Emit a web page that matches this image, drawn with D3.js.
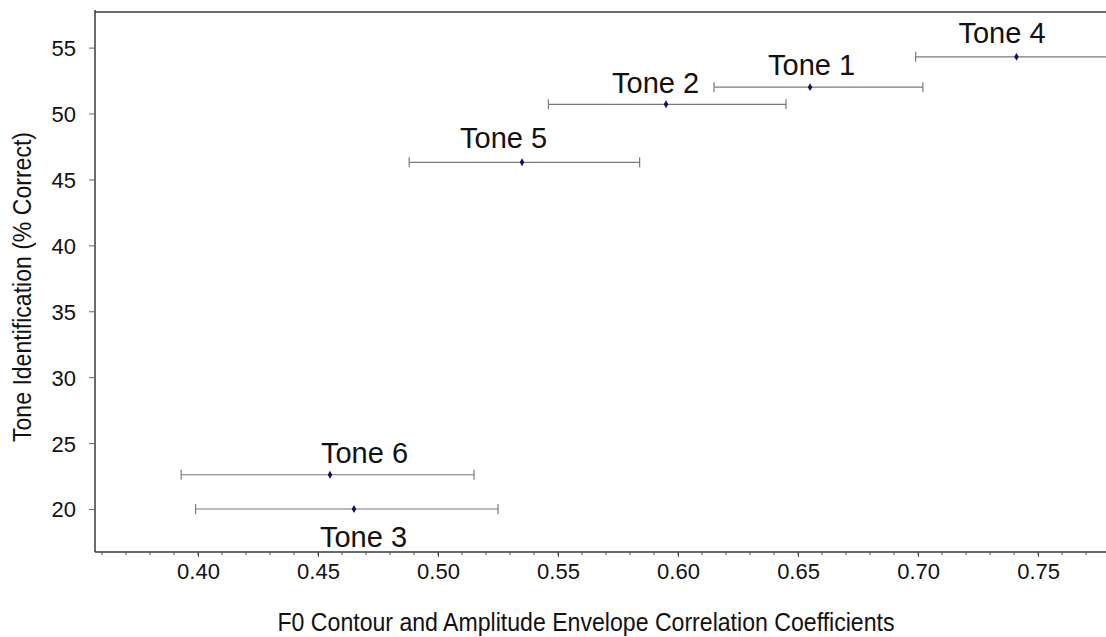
<!DOCTYPE html>
<html>
<head>
<meta charset="utf-8">
<script src="https://cdn.jsdelivr.net/npm/d3@7"></script>
<style>
  html, body { margin: 0; padding: 0; background: #fff; }
  svg { display: block; font-family: "Liberation Sans", Arial, sans-serif; }
</style>
</head>
<body>
<svg id="chart" width="1106" height="637"></svg>
<script>
// ---- data ----
const tones      = ["Tone 1", "Tone 2", "Tone 3", "Tone 4", "Tone 5", "Tone 6"];
const corrMean   = [0.655, 0.595, 0.465, 0.741, 0.535, 0.455];
const corrLow    = [0.615, 0.546, 0.399, 0.699, 0.488, 0.393];
const corrHigh   = [0.702, 0.645, 0.525, 0.790, 0.584, 0.515];
const identPct   = [52.0, 50.7, 20.0, 54.3, 46.3, 22.6];
const xTickLabels = [0.40, 0.45, 0.50, 0.55, 0.60, 0.65, 0.70, 0.75];
const yTickLabels = [20, 25, 30, 35, 40, 45, 50, 55];
const xMinorTicks = d3.range(36, 78).map(v => v / 100);
const xTitle = "F0 Contour and Amplitude Envelope Correlation Coefficients";
const yTitle = "Tone Identification (% Correct)";

// label placement (pixel offsets from each point: start x, baseline y)
const labelDx = [-42, -54, -34, -58, -62, -9];
const labelDy = [-12, -11, 38, -14, -14, -12];

// ---- layout ----
const svg = d3.select("#chart");
const mLeft = 95, mRight = 1106, mTop = 12, mBottom = 552;
const x = d3.scaleLinear().domain([0.3571, 0.7783]).range([mLeft, mRight]);
const y = d3.scaleLinear().domain([16.74, 57.7]).range([mBottom, mTop]);

const data = tones.map((t, i) => ({
  tone: t, m: corrMean[i], lo: corrLow[i], hi: corrHigh[i], v: identPct[i],
  dx: labelDx[i], dy: labelDy[i]
}));

svg.append("defs").append("clipPath").attr("id", "plotclip")
  .append("rect").attr("x", mLeft).attr("y", mTop).attr("width", mRight - mLeft).attr("height", mBottom - mTop);

// frame: top border + left axis line + bottom axis line
svg.append("line").attr("x1", mLeft).attr("x2", mRight).attr("y1", mTop).attr("y2", mTop)
  .attr("stroke", "#3a3a3a").attr("stroke-width", 1.5);
svg.append("line").attr("x1", mLeft).attr("x2", mLeft).attr("y1", mTop - 2).attr("y2", mBottom)
  .attr("stroke", "#3a3a3a").attr("stroke-width", 1.5);
svg.append("line").attr("x1", mLeft).attr("x2", mRight).attr("y1", mBottom).attr("y2", mBottom)
  .attr("stroke", "#3a3a3a").attr("stroke-width", 1.5);

// x minor ticks
svg.append("g").selectAll("line").data(xMinorTicks).join("line")
  .attr("x1", d => x(d)).attr("x2", d => x(d))
  .attr("y1", mBottom).attr("y2", mBottom + 3)
  .attr("stroke", "#555").attr("stroke-width", 1);

// x axis (major)
const xAxis = d3.axisBottom(x).tickValues(xTickLabels).tickFormat(d3.format(".2f"))
  .tickSize(5).tickSizeOuter(0);
const gx = svg.append("g").attr("transform", `translate(0,${mBottom})`).call(xAxis);
gx.select(".domain").remove();
gx.selectAll(".tick line").attr("stroke", "#444");
gx.selectAll(".tick text").attr("font-size", 22).attr("fill", "#111")
  .attr("font-family", "Liberation Sans, Arial, sans-serif")
  .attr("dy", null).attr("y", 27);

// y axis
const yAxis = d3.axisLeft(y).tickValues(yTickLabels).tickFormat(d3.format("d"))
  .tickSize(6).tickSizeOuter(0);
const gy = svg.append("g").attr("transform", `translate(${mLeft},0)`).call(yAxis);
gy.select(".domain").remove();
gy.selectAll(".tick line").attr("stroke", "#666");
gy.selectAll(".tick text").attr("font-size", 22).attr("fill", "#111")
  .attr("font-family", "Liberation Sans, Arial, sans-serif")
  .attr("x", -19).attr("dy", "0.36em");

// axis titles
svg.append("text").attr("x", 586).attr("y", 631).attr("text-anchor", "middle")
  .attr("font-size", 25).attr("fill", "#111")
  .attr("textLength", 617).attr("lengthAdjust", "spacingAndGlyphs")
  .text(xTitle);
svg.append("text").attr("transform", "translate(31,287) rotate(-90)")
  .attr("text-anchor", "middle").attr("font-size", 25).attr("fill", "#111")
  .attr("textLength", 310).attr("lengthAdjust", "spacingAndGlyphs")
  .text(yTitle);

// error bars
const eb = svg.append("g").attr("clip-path", "url(#plotclip)");
const ebColor = "#7a7a7a";
eb.selectAll("line.bar").data(data).join("line").attr("class", "bar")
  .attr("x1", d => x(d.lo)).attr("x2", d => x(d.hi))
  .attr("y1", d => y(d.v)).attr("y2", d => y(d.v))
  .attr("stroke", ebColor).attr("stroke-width", 1.2);
eb.selectAll("line.capL").data(data).join("line").attr("class", "capL")
  .attr("x1", d => x(d.lo)).attr("x2", d => x(d.lo))
  .attr("y1", d => y(d.v) - 5).attr("y2", d => y(d.v) + 5)
  .attr("stroke", ebColor).attr("stroke-width", 1.2);
eb.selectAll("line.capR").data(data).join("line").attr("class", "capR")
  .attr("x1", d => x(d.hi)).attr("x2", d => x(d.hi))
  .attr("y1", d => y(d.v) - 5).attr("y2", d => y(d.v) + 5)
  .attr("stroke", ebColor).attr("stroke-width", 1.2);

// points (small navy diamonds)
svg.append("g").selectAll("path").data(data).join("path")
  .attr("transform", d => `translate(${x(d.m)},${y(d.v)})`)
  .attr("d", d3.symbol().type(d3.symbolDiamond).size(18))
  .attr("fill", "#0b1466");

// tone labels
svg.append("g").selectAll("text").data(data).join("text")
  .attr("x", d => x(d.m) + d.dx).attr("y", d => y(d.v) + d.dy)
  .attr("font-size", 29).attr("fill", "#111")
  .text(d => d.tone);
</script>
</body>
</html>
